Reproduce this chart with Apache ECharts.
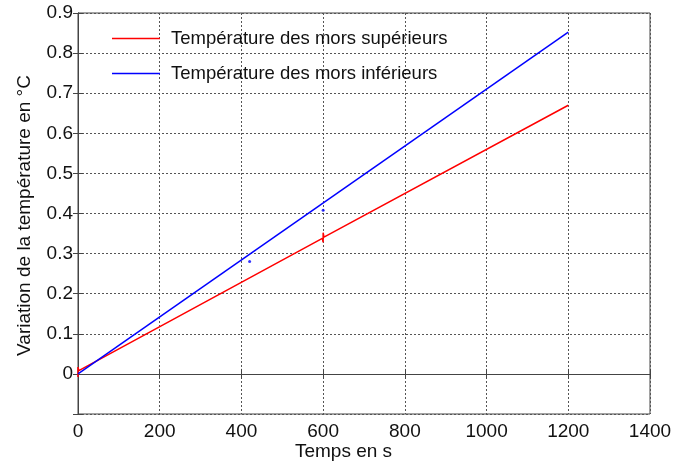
<!DOCTYPE html>
<html>
<head>
<meta charset="utf-8">
<script src="https://cdn.jsdelivr.net/npm/echarts@6/dist/echarts.min.js"></script>
<style>
html, body { margin: 0; padding: 0; background: #fff; }
#chart { width: 673px; height: 463px; }
</style>
</head>
<body>
<div id="chart"></div>
<script>
var seriesNames = ['Température des mors supérieurs', 'Température des mors inférieurs'];
// red curve: time (s), temperature variation (°C)
var supTime = [0, 0, 2, 598, 600, 600, 602, 1200];
var supValue = [-0.008, 0.017, 0.008, 0.338, 0.328, 0.352, 0.341, 0.67];
// blue curve
var infTime = [0, 1200];
var infValue = [0, 0.8525];
// stray blue samples
var infDotTime = [420, 600];
var infDotValue = [0.28, 0.408];

function pairs(xs, ys) {
	var out = [];
	for (var i = 0; i < xs.length; i++) out.push([xs[i], ys[i]]);
	return out;
}

var chart = echarts.init(document.getElementById('chart'));
var font = 'Liberation Sans, Arial, sans-serif';
var gridLine = { show: true, lineStyle: { type: [2, 2], color: '#555', width: 1 } };

var option = {
	animation: false,
	textStyle: { fontFamily: font },
	grid: { left: 78, right: 23, top: 13, bottom: 49, show: true, borderColor: '#444', borderWidth: 1,
		outerBoundsMode: 'none', containLabel: false },
	legend: {
		orient: 'vertical',
		left: 107,
		top: 24,
		itemWidth: 48,
		itemHeight: 1.5,
		itemGap: 16,
		icon: 'rect',
		textStyle: { fontSize: 18.5, color: '#111', fontFamily: font, padding: [0, 0, 0, 6], lineHeight: 18 },
		data: [
			{ name: seriesNames[0], itemStyle: { color: '#f00' } },
			{ name: seriesNames[1], itemStyle: { color: '#00f' } }
		]
	},
	xAxis: [{
		type: 'value', min: 0, max: 1400, interval: 200,
		name: 'Temps en s', nameLocation: 'middle', nameGap: 28, nameMoveOverlap: false,
		nameTextStyle: { fontSize: 19, color: '#111', fontFamily: font, padding: [0, 41, 0, 0] },
		axisLine: { show: true, lineStyle: { color: '#444' } },
		axisTick: { show: true, inside: true, length: 5, lineStyle: { color: '#444' } },
		axisLabel: { fontSize: 19, color: '#111', margin: 8, fontFamily: font,
			formatter: function (v) { return String(v); } },
		splitLine: gridLine
	}, {
		type: 'value', position: 'top', min: 0, max: 1400, interval: 200,
		axisLine: { show: true, lineStyle: { color: '#444' } },
		axisTick: { show: true, inside: true, length: 5, lineStyle: { color: '#444' } },
		axisLabel: { show: false }, splitLine: { show: false }
	}],
	yAxis: [{
		type: 'value', min: -0.1, max: 0.9, interval: 0.1,
		name: 'Variation de la température en °C', nameLocation: 'middle', nameGap: 44, nameMoveOverlap: false,
		nameTextStyle: { fontSize: 19, color: '#111', fontFamily: font, padding: [0, 4, 0, 0] },
		axisLine: { show: true, lineStyle: { color: '#444' } },
		axisTick: { show: true, inside: true, length: 5, lineStyle: { color: '#444' } },
		axisLabel: {
			fontSize: 19, color: '#111', margin: 5, fontFamily: font,
			formatter: function (v) {
				if (v < -0.05) return '';
				return String(Math.round(v * 10) / 10);
			}
		},
		splitLine: gridLine
	}, {
		type: 'value', position: 'right', min: -0.1, max: 0.9, interval: 0.1,
		axisLine: { show: true, lineStyle: { color: '#444' } },
		axisTick: { show: true, inside: true, length: 5, lineStyle: { color: '#444' } },
		axisLabel: { show: false }, splitLine: { show: false }
	}],
	series: [{
		name: seriesNames[0], type: 'line', showSymbol: false, symbol: 'none',
		color: '#f00', lineStyle: { color: '#f00', width: 1.5 },
		data: pairs(supTime, supValue)
	}, {
		name: seriesNames[1], type: 'line', showSymbol: false, symbol: 'none',
		color: '#00f', lineStyle: { color: '#00f', width: 1.5 },
		data: pairs(infTime, infValue)
	}, {
		name: 'points', type: 'scatter', symbolSize: 3, color: '#00f',
		data: pairs(infDotTime, infDotValue)
	}]
};

chart.setOption(option);
</script>
</body>
</html>
